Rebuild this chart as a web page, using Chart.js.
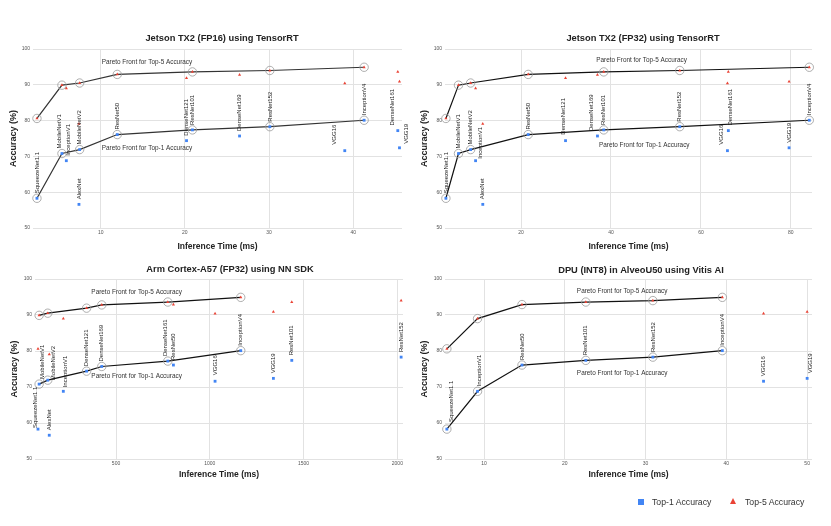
<!DOCTYPE html>
<html>
<head>
<meta charset="utf-8">
<title>Pareto fronts of CNN inference</title>
<script src="https://cdn.jsdelivr.net/npm/chart.js@4.4.1/dist/chart.umd.min.js"></script>
<style>
  body { margin: 0; background: #fff; font-family: "Liberation Sans", Arial, sans-serif; }
  .panel { position: absolute; }
  .legend-item { position: absolute; font-size: 8.7px; color: #333; line-height: 10px; white-space: nowrap; }
  .sq { position: absolute; left: 638px; top: 499px; width: 6px; height: 6px; background: #4285f4; }
  .tri { position: absolute; left: 730px; top: 498px; width: 0; height: 0;
         border-left: 3.8px solid transparent; border-right: 3.8px solid transparent; border-bottom: 6.5px solid #ea4335; }
</style>
</head>
<body>
<div class="panel" style="left:0;top:20px;width:415px;height:240px"><canvas id="fp16"></canvas></div>
<div class="panel" style="left:415px;top:20px;width:416px;height:240px"><canvas id="fp32"></canvas></div>
<div class="panel" style="left:0;top:255px;width:415px;height:240px"><canvas id="arm"></canvas></div>
<div class="panel" style="left:415px;top:255px;width:416px;height:240px"><canvas id="dpu"></canvas></div>

<span class="sq"></span>
<span class="legend-item" style="left:652px;top:497px">Top-1 Accuracy</span>
<span class="tri"></span>
<span class="legend-item" style="left:745px;top:497px">Top-5 Accuracy</span>

<script>
// Models and their accuracies (same for every platform)
const models = ['SqueezeNet1.1', 'MobileNetV1', 'MobileNetV2', 'InceptionV1', 'AlexNet', 'ResNet50', 'DenseNet121',
                'ResNet101', 'DenseNet169', 'ResNet152', 'VGG16', 'InceptionV4', 'DenseNet161', 'VGG19'];
const top1Acc = [58.3, 70.8, 71.9, 68.8, 56.6, 76.1, 74.4, 77.4, 75.7, 78.3, 71.6, 80.1, 77.2, 72.4];
const top5Acc = [80.6, 89.9, 90.5, 89.0, 79.1, 92.9, 91.9, 93.6, 92.8, 94.0, 90.4, 94.9, 93.6, 90.9];

// Inference times (ms) per platform, null = not run
const timeFP16 = [2.43, 5.4, 7.5, 5.92, 7.42, 11.97, 20.2, 20.9, 26.5, 30.1, 39.0, 41.3, 45.3, 45.5];
const timeFP32 = [3.3, 6.1, 8.8, 9.9, 11.5, 21.6, 29.9, 38.4, 37.0, 55.3, 65.9, 84.1, 66.1, 79.6];
const timeArm  = [84, 90, 136, 219, 144, 806, 343, 1437, 424, 2020, 1028, 1165, 776, 1339];
const timeDPU  = [5.4, null, null, 9.2, null, 14.7, null, 22.6, null, 30.9, 44.6, 39.5, null, 50.0];

// Models on the Pareto front (for both top-1 and top-5)
const frontFP16 = ['SqueezeNet1.1', 'MobileNetV1', 'MobileNetV2', 'ResNet50', 'ResNet101', 'ResNet152', 'InceptionV4'];
const frontFP32 = ['SqueezeNet1.1', 'MobileNetV1', 'MobileNetV2', 'ResNet50', 'ResNet101', 'ResNet152', 'InceptionV4'];
const frontArm  = ['MobileNetV1', 'MobileNetV2', 'DenseNet121', 'DenseNet169', 'DenseNet161', 'InceptionV4'];
const frontDPU  = ['SqueezeNet1.1', 'InceptionV1', 'ResNet50', 'ResNet101', 'ResNet152', 'InceptionV4'];

// Tick labels
const yTicks = [50, 60, 70, 80, 90, 100];
const xTicksFP16 = [10, 20, 30, 40];
const xTicksFP32 = [20, 40, 60, 80];
const xTicksArm  = [500, 1000, 1500, 2000];
const xTicksDPU  = [10, 20, 30, 40, 50];

const FONT = '"Liberation Sans", Arial, sans-serif';
Chart.defaults.font.family = FONT;

const panels = [
    { id: 'fp16', title: 'Jetson TX2 (FP16) using TensorRT', time: timeFP16, front: frontFP16, xTicks: xTicksFP16,
      xMin: 1.96, xMax: 45.8, yAxisW: 33, padRight: 13, padTop: 29, xAxisH: 32,
      titleX: 222, titleY: 18, yTitlePad: 8.6, xTitlePad: 7.9, lineColor: '#333',
      note5: [15.5, 96.2], note1: [15.5, 72.3],
      nudge: { 'MobileNetV1': [-3, 5], 'InceptionV1': [2, 5], 'VGG16': [-10, 6], 'DenseNet161': [-5, 5], 'VGG19': [7, 4] } },
    { id: 'fp32', title: 'Jetson TX2 (FP32) using TensorRT', time: timeFP32, front: frontFP32, xTicks: xTicksFP32,
      xMin: 3.1, xMax: 84.7, yAxisW: 30, padRight: 19, padTop: 29, xAxisH: 32,
      titleX: 228, titleY: 18, yTitlePad: 4.6, xTitlePad: 7.9, lineColor: '#111',
      note5: [46.8, 96.9], note1: [47.4, 73.1],
      nudge: { 'InceptionV1': [5, 2], 'DenseNet121': [-2, 6], 'DenseNet169': [-6, 5], 'VGG16': [-6, 6], 'DenseNet161': [2, 5] } },
    { id: 'arm', title: 'Arm Cortex-A57 (FP32) using NN SDK', time: timeArm, front: frontArm, xTicks: xTicksArm,
      xMin: 68, xMax: 2030, yAxisW: 35, padRight: 12, padTop: 24, xAxisH: 36,
      titleX: 230, titleY: 14, yTitlePad: 9.6, xTitlePad: 14.9, lineColor: '#111',
      note5: [610, 96.2], note1: [610, 72.9],
      nudge: { 'SqueezeNet1.1': [-3, 1], 'MobileNetV1': [3, 5], 'MobileNetV2': [6, 0], 'InceptionV1': [2, 4],
               'VGG16': [0, 6], 'DenseNet161': [-2, 5] } },
    { id: 'dpu', title: 'DPU (INT8) in AlveoU50 using Vitis AI', time: timeDPU, front: frontDPU, xTicks: xTicksDPU,
      xMin: 5.17, xMax: 50.6, yAxisW: 30, padRight: 19, padTop: 24, xAxisH: 36,
      titleX: 226, titleY: 15, yTitlePad: 4.6, xTitlePad: 14.9, lineColor: '#111',
      note5: [27.1, 96.5], note1: [27.1, 73.8],
      nudge: { 'SqueezeNet1.1': [4, 7], 'InceptionV1': [2, 5], 'VGG19': [3, 5] } }
];

function pointsFor(time, acc) {
    const pts = [];
    models.forEach((name, i) => {
        if (time[i] != null) pts.push({ x: time[i], y: acc[i] });
    });
    return pts;
}

function frontFor(time, acc, front) {
    return front.map(name => {
        const i = models.indexOf(name);
        return { x: time[i], y: acc[i] };
    });
}

// Draws model names, Pareto notes and the panel title
function makeAnnotations(p) {
    return {
        id: 'annotate',
        afterDatasetsDraw(chart) {
            const ctx = chart.ctx;
            const xs = chart.scales.x, ys = chart.scales.y;
            ctx.save();
            ctx.fillStyle = '#222';
            ctx.font = '6px ' + FONT;
            ctx.textAlign = 'left';
            ctx.textBaseline = 'middle';
            models.forEach((name, i) => {
                if (p.time[i] == null) return;
                const n = p.nudge[name] || [0, 5];
                const px = xs.getPixelForValue(p.time[i]) + n[0];
                const py = ys.getPixelForValue(top1Acc[i]) - n[1];
                ctx.save();
                ctx.translate(px, py);
                ctx.rotate(-Math.PI / 2);
                ctx.fillText(name, 0, 0);
                ctx.restore();
            });

            ctx.fillStyle = '#333';
            ctx.font = '6.4px ' + FONT;
            ctx.textAlign = 'center';
            ctx.fillText('Pareto Front for Top-5 Accuracy', xs.getPixelForValue(p.note5[0]), ys.getPixelForValue(p.note5[1]));
            ctx.fillText('Pareto Front for Top-1 Accuracy', xs.getPixelForValue(p.note1[0]), ys.getPixelForValue(p.note1[1]));

            ctx.fillStyle = '#222';
            ctx.font = 'bold 9.3px ' + FONT;
            ctx.fillText(p.title, p.titleX, p.titleY);
            ctx.restore();
        }
    };
}

function frontDataset(data, color) {
    return {
        type: 'scatter',
        data: data,
        showLine: true,
        borderColor: color,
        borderWidth: 1.2,
        pointRadius: 4.2,
        pointBackgroundColor: 'rgba(0,0,0,0)',
        pointBorderColor: '#999',
        pointBorderWidth: 0.8,
        clip: false,
        order: 3
    };
}

panels.forEach(p => {
    const ctx = document.getElementById(p.id).getContext('2d');
    new Chart(ctx, {
        type: 'scatter',
        data: {
            datasets: [
                {
                    label: 'Top-1 Accuracy',
                    data: pointsFor(p.time, top1Acc),
                    pointStyle: 'rect',
                    pointRadius: 2,
                    pointBackgroundColor: '#4285f4',
                    pointBorderWidth: 0,
                    clip: false,
                    order: 1
                },
                {
                    label: 'Top-5 Accuracy',
                    data: pointsFor(p.time, top5Acc),
                    pointStyle: 'triangle',
                    pointRadius: 1.8,
                    pointBackgroundColor: '#ea4335',
                    pointBorderWidth: 0,
                    clip: false,
                    order: 1
                },
                frontDataset(frontFor(p.time, top1Acc, p.front), p.lineColor),
                frontDataset(frontFor(p.time, top5Acc, p.front), p.lineColor)
            ]
        },
        options: {
            responsive: true,
            maintainAspectRatio: false,
            animation: false,
            layout: { padding: { left: 0, right: p.padRight, top: p.padTop, bottom: 0 } },
            plugins: {
                legend: { display: false },
                tooltip: { enabled: false }
            },
            scales: {
                x: {
                    type: 'linear',
                    min: p.xMin,
                    max: p.xMax,
                    afterBuildTicks: s => { s.ticks = p.xTicks.map(v => ({ value: v })); },
                    afterFit: s => { s.height = p.xAxisH; },
                    grid: { color: '#e2e2e2', drawTicks: false },
                    border: { display: false },
                    ticks: { padding: 2, font: { size: 5 }, color: '#555', callback: v => String(v) },
                    title: {
                        display: true,
                        text: 'Inference Time (ms)',
                        color: '#222',
                        font: { size: 8.5, weight: 'bold' },
                        padding: { top: 0, bottom: p.xTitlePad }
                    }
                },
                y: {
                    min: 50,
                    max: 100,
                    afterBuildTicks: s => { s.ticks = yTicks.map(v => ({ value: v })); },
                    afterFit: s => { s.width = p.yAxisW; },
                    grid: { color: '#e2e2e2', drawTicks: false },
                    border: { display: false },
                    ticks: { padding: 3, font: { size: 5 }, color: '#555', callback: v => String(v) },
                    title: {
                        display: true,
                        text: 'Accuracy (%)',
                        color: '#222',
                        font: { size: 9, weight: 'bold' },
                        padding: { top: p.yTitlePad, bottom: 0 }
                    }
                }
            }
        },
        plugins: [makeAnnotations(p)]
    });
});
</script>
</body>
</html>
